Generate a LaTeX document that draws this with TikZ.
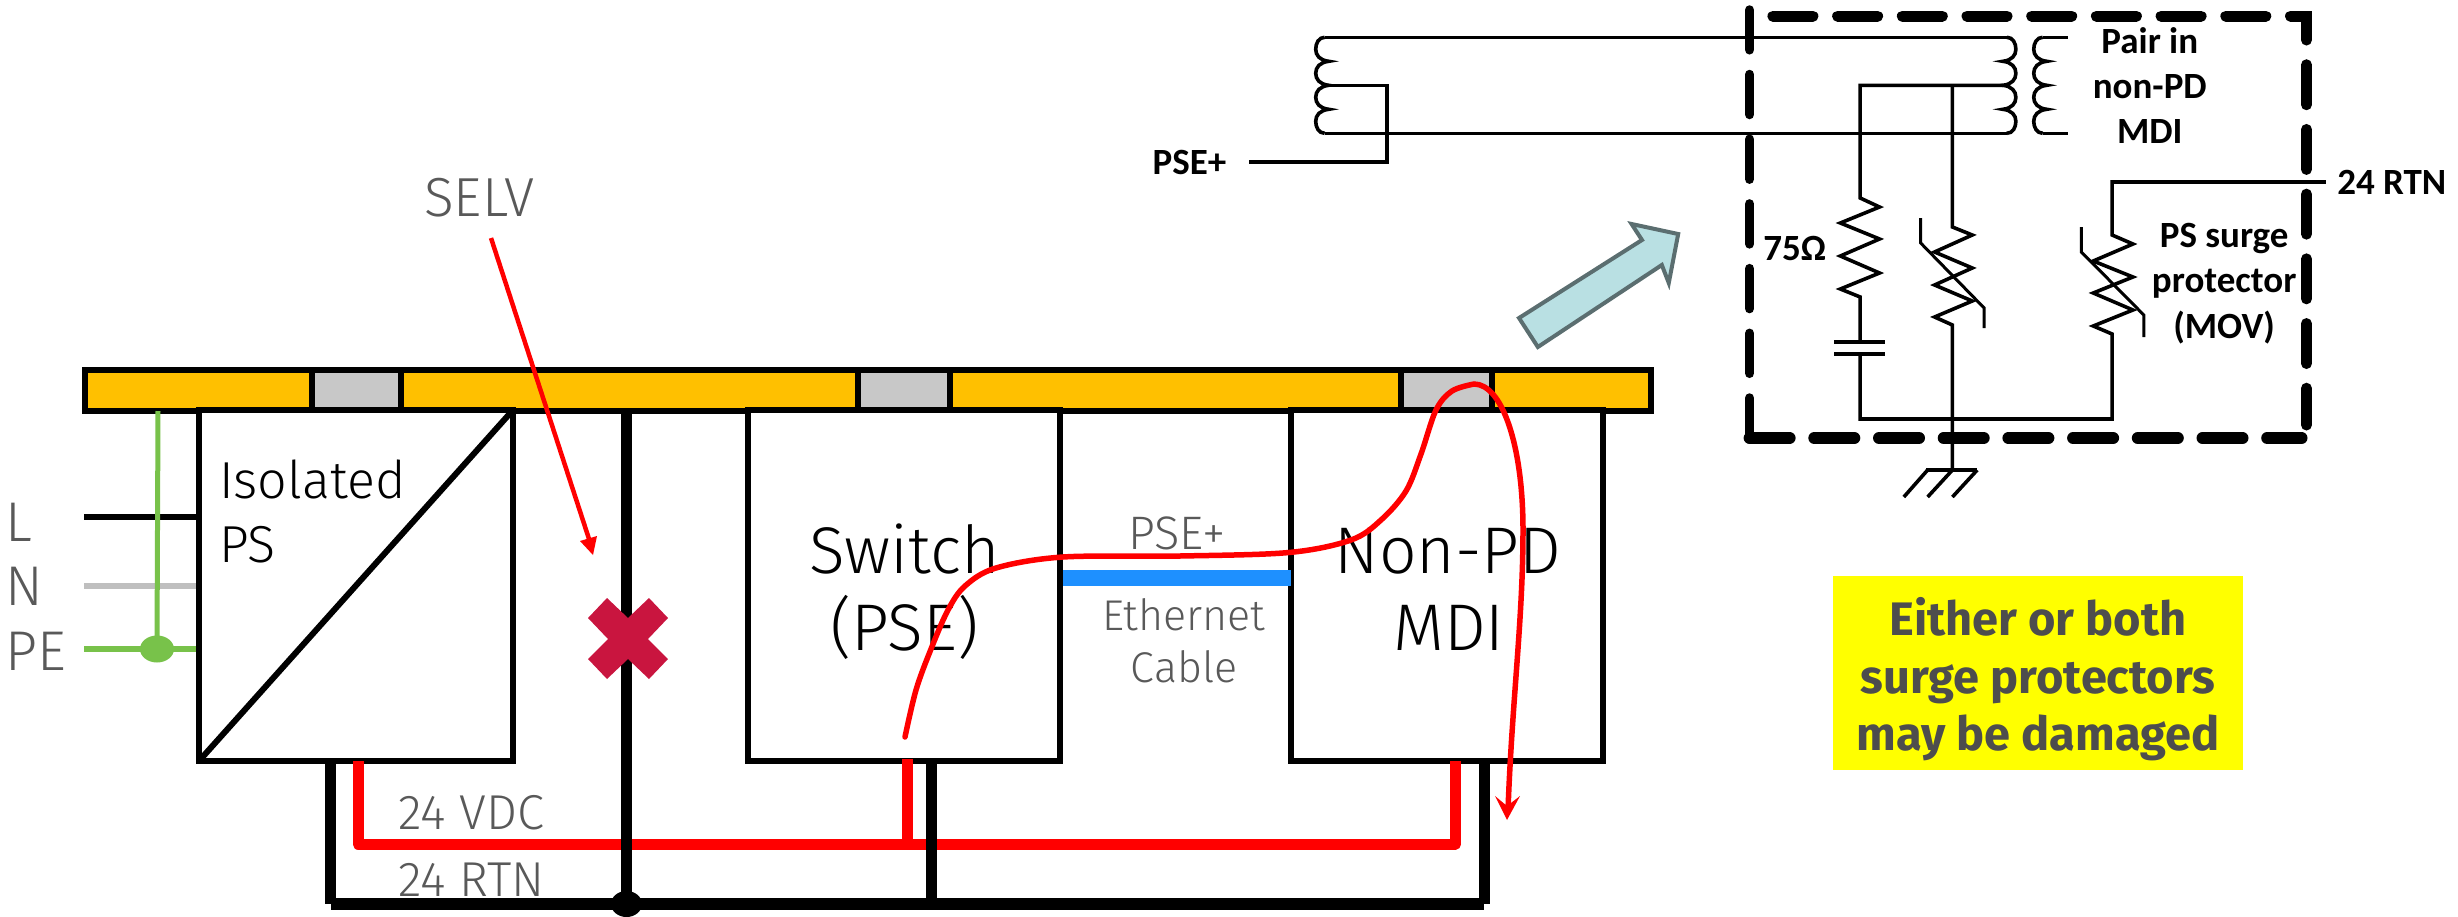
\documentclass[tikz,border=0pt]{standalone}
\usepackage{fontspec}
\setmainfont{Carlito}
\newfontfamily\dinf{Fira Sans Light}
\newfontfamily\yelf{Fira Sans}[UprightFont=* Bold]
\newfontfamily\calf{Carlito}[UprightFont=* Bold]
\usetikzlibrary{arrows.meta,shapes.geometric}
\definecolor{barc}{HTML}{FFC000}
\definecolor{greyb}{HTML}{C8C8C8}
\definecolor{txtg}{HTML}{595959}
\definecolor{xred}{HTML}{C9153F}
\definecolor{pegreen}{HTML}{78C24A}
\definecolor{cblue}{HTML}{1E90FF}
\definecolor{tealf}{HTML}{B9E0E3}
\definecolor{teald}{HTML}{5B6E70}
\definecolor{yelt}{HTML}{4D4D4D}
\definecolor{yelb}{HTML}{FFFF00}
\definecolor{redl}{HTML}{FF0000}
\tikzset{
  box/.style={draw=black,fill=white,line width=6pt,rectangle,inner sep=0pt,outer sep=0pt,minimum height=351pt,anchor=north west},
  blk/.style={draw=black,line width=6.5pt,fill=greyb},
  bigt/.style={font=\dinf\fontsize{66}{66}\selectfont,anchor=base,inner sep=0pt,text=black},
  midt/.style={font=\dinf\fontsize{52}{52}\selectfont,anchor=base west,inner sep=0pt,text=black},
  grayt/.style={font=\dinf\fontsize{43}{43}\selectfont,anchor=base,inner sep=0pt,text=txtg},
  grayw/.style={font=\dinf\fontsize{49}{49}\selectfont,anchor=base west,inner sep=0pt,text=txtg},
  sidet/.style={font=\dinf\fontsize{56}{56}\selectfont,anchor=base west,inner sep=0pt,text=txtg},
  calt/.style={font=\calf\fontsize{37}{37}\selectfont,inner sep=0pt,text=black},
  yelline/.style={font=\yelf\fontsize{47}{47}\selectfont,anchor=base,inner sep=0pt,text=yelt},
  rtnw/.style={draw=black,line width=11pt},
  redw/.style={draw=redl,line width=11pt,line join=round},
  fine/.style={draw=black,line width=3.6pt,line join=miter},
  redc/.style={draw=redl,line width=5.5pt,line cap=round},
  dash box/.style={draw=black,line cap=round,dash pattern=on 40pt off 24.7pt},
  coil/.pic={
    \draw[fine] (9,0) .. controls (3,0) and (0,6) .. (0,12) .. controls (0,18) and (4,23) .. (13,24)
      .. controls (4,25) and (0,30) .. (0,36) .. controls (0,42) and (4,47) .. (13,48)
      .. controls (4,49) and (0,54) .. (0,60) .. controls (0,66) and (4,71) .. (13,72)
      .. controls (4,73) and (0,78) .. (0,84) .. controls (0,90) and (3,96) .. (9,96);
  }
}
\begin{document}
\begin{tikzpicture}[x=1pt,y=-1pt]
\useasboundingbox (0,0) rectangle (2458,916);
% bar
\draw[draw=black,line width=6.5pt,fill=barc] (85,370) rectangle (1651,411);
\draw[blk] (312,370) rectangle (401,411);
\draw[blk] (858,370) rectangle (950,411);
\draw[blk] (1401,370) rectangle (1492,411);
% mains
\coordinate (lS) at (84,517); \coordinate (nS) at (84,586); \coordinate (peS) at (84,649);
\coordinate (lE) at (199,517); \coordinate (nE) at (199,586); \coordinate (peE) at (199,649);
\coordinate (peTop) at (158,411); \coordinate (peJ) at (157,649);
\draw[line width=6pt,black] (lS) -- (lE);
\draw[line width=6pt,color=black!25] (nS) -- (nE);
\draw[line width=6pt,pegreen] (peS) -- (peE);
\draw[line width=5pt,pegreen] (peTop) -- (peJ);
\node[ellipse,fill=pegreen,minimum width=34pt,minimum height=27pt,inner sep=0pt] (peDot) at (peJ) {};
% boxes
\node[box,minimum width=314pt] (ps) at (199,410) {};
\node[box,minimum width=312pt] (sw) at (748,410) {};
\node[box,minimum width=312pt] (mdi) at (1291,410) {};
\draw[line width=6pt] (ps.south west) -- (ps.north east);
% blue
\coordinate (bl1) at (1063,578); \coordinate (bl2) at (1291,578);
\draw[line width=16pt,cblue] (bl1) -- (bl2);
% red rails
\coordinate (r1) at (358,761); \coordinate (r1b) at (358,844);
\coordinate (r2) at (907,759); \coordinate (r2b) at (907,844);
\coordinate (r3) at (1455.5,761); \coordinate (r3b) at (1455.5,844);
\draw[redw] (r1) -- (r1b) -- (r3b) -- (r3);
\draw[redw] (r2) -- (r2b);
% black return
\coordinate (k1) at (330.5,761); \coordinate (k1b) at (330.5,904);
\coordinate (k2) at (931,761); \coordinate (k2b) at (931,904);
\coordinate (k3) at (1484,761); \coordinate (k3b) at (1484,904);
\coordinate (k0) at (626.5,411); \coordinate (k0b) at (626.5,904);
\draw[rtnw] (k1) -- (k1b);
\draw[rtnw] (k2) -- (k2b);
\draw[rtnw] (k3) -- (k3b);
\draw[rtnw] (k0) -- (k0b);
\draw[line width=11.5pt] (k1b) -- (k3b);
\node[ellipse,fill=black,minimum width=31pt,minimum height=26pt,inner sep=0pt] (kDot) at (k0b) {};
% red cross
\fill[xred] (607,598) -- (628,618) -- (649,598) -- (668,618) -- (648,639) -- (668,659) -- (649,679) -- (628,659) -- (607,679) -- (588,659) -- (608,639) -- (588,618) -- cycle;
% labels
\node[midt] (t1) at (219,498) {Isolated};
\node[midt] (t2) at (219,562) {PS};
\node[bigt] (t3) at (904.5,573) {Switch};
\node[bigt] (t4) at (904.5,650) {(PSE)};
\node[bigt] (t5) at (1448,573) {Non-PD};
\node[bigt] (t6) at (1449,650) {MDI};
\node[grayt,font=\dinf\fontsize{47}{47}\selectfont] (t7) at (1177,549.5) {PSE+};
\node[grayt] (t8) at (1184,630) {Ethernet};
\node[grayt] (t9) at (1184,682) {Cable};
\node[grayw] (t10) at (398,829) {24 VDC};
\node[grayw] (t11) at (398,896) {24 RTN};
\node[grayw,font=\dinf\fontsize{55}{55}\selectfont] (t12) at (424,216) {SELV};
\node[sidet] (t13) at (5,541) {L};
\node[sidet] (t14) at (5,605) {N};
\node[sidet] (t15) at (5,670) {PE};
% SELV arrow
\coordinate (sA) at (491,238); \coordinate (sB) at (590,542);
\draw[redl,line width=4.5pt] (sA) -- (sB);
\fill[redl] (593,555) -- (580,541) -- (597,536) -- cycle;
% red curve
\draw[redc] plot[smooth,tension=.55] coordinates {(905,737) (916,690) (931,649) (948,610) (965,586) (996,568) (1063,557) (1180,556) (1289,552.5) (1351,540) (1381,520) (1406,491) (1421,454) (1436,410) (1452,391) (1474,384)}
  .. controls (1502,384) and (1523,445) .. (1523,530) .. controls (1523,620) and (1512,700) .. (1508,810);
\fill[redl] (1507,820) -- (1495,796) -- (1507,806) -- (1520,796) -- cycle;
% right part, slightly condensed
\begin{scope}[shift={(1280,0)},xscale=.99174,shift={(-1280,0)}]
% teal arrow
\draw[fill=tealf,draw=teald,line width=4pt,line join=miter] (1521,318) -- (1540,347) -- (1665,265) -- (1672,283) -- (1681.5,234) -- (1634.5,224) -- (1645,240) -- cycle;
% dashed box
\draw[dash box,line width=9.5pt] (1753.5,438) -- (1753.5,10);
\draw[dash box,line width=12pt] (1753.5,438) -- (2310,438);
\draw[dash box,line width=11pt] (1777,16) -- (2315,16) -- (2315,425);
% circuit
\pic (c1) at (1316,37.3) {coil};
\pic[xscale=-1] (c2) at (2022,37.3) {coil};
\pic (c3) at (2040,37.3) {coil};
\coordinate (c1t) at (1325,37.3); \coordinate (c2t) at (2013,37.3);
\coordinate (c1b) at (1325,133.3); \coordinate (c2b) at (2013,133.3);
\draw[fine] (c1t) -- (c2t);
\draw[fine] (c1b) -- (c2b);
\coordinate (c3t) at (2049,37.3); \coordinate (c3te) at (2075,37.3);
\coordinate (c3b) at (2049,133.3); \coordinate (c3be) at (2075,133.3);
\draw[fine] (c3t) -- (c3te);
\draw[fine] (c3b) -- (c3be);
\node[calt,anchor=east] (psep) at (1226,162) {PSE+};
\coordinate (pW) at (1249,162); \coordinate (pC) at (1388,162); \coordinate (pT) at (1388,85.3); \coordinate (pL) at (1329,85.3);
\draw[fine] (pW) -- (pC) -- (pT) -- (pL);
\coordinate (tR) at (2009,85.3); \coordinate (tL) at (1865,85.3); \coordinate (tM) at (1958,85.3);
\draw[fine] (tR) -- (tL) -- (1865,198) -- (1884.5,207) -- (1845,223) -- (1884.5,239) -- (1845,256) -- (1884.5,273) -- (1845,289) -- (1865,297) -- (1865,342);
\draw[fine] (1839,342) -- (1890,342);
\draw[fine] (1839,354) -- (1890,354);
\coordinate (gT) at (1958,470);
\draw[fine] (tM) -- (1958,227) -- (1978,235) -- (1940,252) -- (1978,268) -- (1940,285) -- (1978,301) -- (1940,317) -- (1958,325) -- (gT);
\draw[line width=3pt] (1926,218) -- (1926,243) -- (1990,308) -- (1990,328);
\coordinate (rtnE) at (2334.5,182);
\draw[fine] (1865,354) -- (1865,419) -- (2119,419) -- (2119,334) -- (2100,326) -- (2140,310) -- (2100,293) -- (2140,277) -- (2100,261) -- (2140,244) -- (2119,235) -- (2119,182) -- (rtnE);
\draw[line width=3pt] (2088,227) -- (2088,252) -- (2151,315) -- (2151,337);
\draw[fine] (1931.5,470) -- (1983,470);
\draw[fine] (1933,470) -- (1909,497);
\draw[fine] (1958,470) -- (1933,497);
\draw[fine] (1983,470) -- (1958,497);
\node[calt] (a1) at (2157,41) {Pair in};
\node[calt] (a2) at (2157,87) {non-PD};
\node[calt] (a3) at (2157,131) {MDI};
\node[calt] (a4) at (1799,248) {75Ω};
\node[calt] (a5) at (2232,238) {PS surge};
\node[calt] (a6) at (2232,284) {protector};
\node[calt] (a7) at (2232,328) {(MOV)};
\node[calt] (a8) at (2401,182) {24 RTN};
\end{scope}
% yellow
\node[fill=yelb,minimum width=410pt,minimum height=194pt,inner sep=0pt,outer sep=0pt,anchor=north west] (yb) at (1833,576) {};
\node[yelline] (y1) at (2038,635) {Either or both};
\node[yelline] (y2) at (2038,693) {surge protectors};
\node[yelline] (y3) at (2038,750) {may be damaged};
\end{tikzpicture}
\end{document}
